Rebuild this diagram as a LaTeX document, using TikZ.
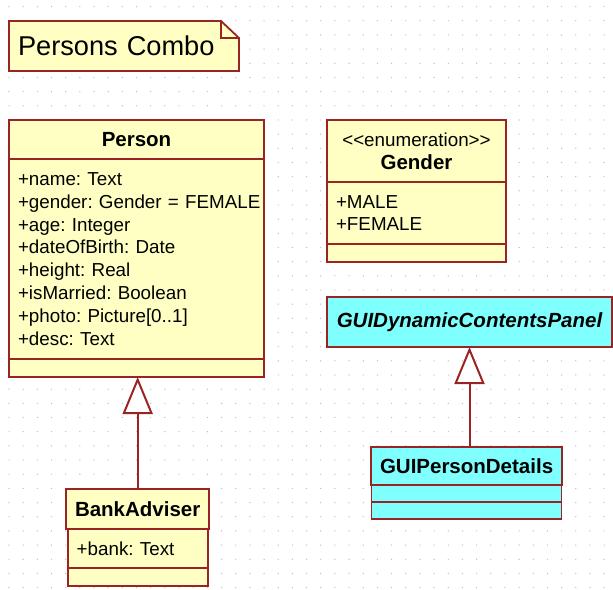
\documentclass[tikz,border=0pt]{standalone}
\usepackage{fontspec}
\setmainfont{Liberation Sans}
\usepackage{xcolor}
\usetikzlibrary{arrows.meta,positioning}
\definecolor{umlred}{HTML}{9A2424}
\definecolor{umlyellow}{HTML}{FFFFC4}
\definecolor{umlcyan}{HTML}{80FFFF}
\definecolor{griddot}{HTML}{BDBDBD}

\begin{document}
\begin{tikzpicture}[x=1pt,y=1pt,node distance=0pt]
  \tikzstyle{part}=[draw=umlred,line width=1.8pt,fill=umlyellow,outer sep=0pt,inner xsep=9pt,inner ysep=0pt,font=\fontsize{18.8}{22.9}\selectfont]
  \tikzstyle{head}=[part,align=center,font=\fontsize{20.5}{23}\selectfont\bfseries]
  \tikzstyle{attrs}=[part,align=left,execute at begin node={\hyphenpenalty=10000\exhyphenpenalty=10000}]
  \tikzstyle{gen}=[draw=umlred,line width=2pt,-{Triangle[length=37pt,width=30pt,fill=white]}]
  \useasboundingbox (0,0) rectangle (613,-589);
  \foreach \i in {0,...,42}
    \foreach \j in {0,...,41}
      \fill[griddot] (9+14.17*\i,-6.6-14.17*\j) circle (0.7pt);
  \node[anchor=north west,minimum height=50pt,inner xsep=9pt,inner ysep=0pt,outer sep=0pt,text width=212pt,align=left,font=\fontsize{27.2}{30}\selectfont] (title) at (9,-21) {\phantom{P}};
  \filldraw[fill=umlyellow,draw=umlred,line width=1.8pt] (title.north west) -- ([xshift=-18pt]title.north east) -- ([yshift=-17pt]title.north east) -- (title.south east) -- (title.south west) -- cycle;
  \draw[umlred,line width=1.8pt] ([xshift=-18pt]title.north east) |- ([yshift=-17pt]title.north east);
  \node[anchor=north west,minimum height=50pt,inner xsep=9pt,inner ysep=0pt,outer sep=0pt,text width=212pt,align=left,font=\fontsize{27.2}{30}\selectfont] at (title.north west) {Persons Combo};

  \node[head,anchor=north west,minimum width=255pt,minimum height=39pt] (person) at (9,-120) {Person};
  \node[attrs,below=of person,text width=237pt,minimum height=200pt] (personattr) {+name:~Text\\+gender:~Gender~=~FEMALE\\+age:~Integer\\+dateOfBirth:~Date\\+height:~Real\\+isMarried:~Boolean\\+photo:~Picture[0..1]\\+desc:~Text};
  \node[part,below=of personattr,minimum width=255pt,minimum height=18pt] (personops) {};

  \node[part,align=center,anchor=north west,minimum width=179pt,minimum height=62pt] (gender) at (327,-120) {<{}<enumeration>{}>\\{\fontsize{20.5}{23}\selectfont\bfseries Gender}};
  \node[attrs,below=of gender,text width=161pt,minimum height=62pt] (genderattr) {+MALE\\+FEMALE};
  \node[part,below=of genderattr,minimum width=179pt,minimum height=18pt] (genderops) {};

  \node[head,fill=umlcyan,anchor=north west,minimum width=285pt,minimum height=50pt,font=\fontsize{20.5}{23}\selectfont\bfseries\itshape] (gdyn) at (327,-297) {GUIDynamicContentsPanel};

  \node[head,fill=umlcyan,anchor=north west,minimum width=190pt,minimum height=38pt] (gpd) at (371,-447) {GUIPersonDetails};
  \node[part,fill=umlcyan,below=of gpd,minimum width=190pt,minimum height=17pt] (gpdattr) {};
  \node[part,fill=umlcyan,below=of gpdattr,minimum width=190pt,minimum height=17pt] (gpdops) {};

  \node[head,anchor=north west,minimum width=140pt,minimum height=40pt] (bank) at (66,-489) {BankAdviser};
  \node[attrs,below=of bank,text width=122pt,minimum height=39pt] (bankattr) {+bank:~Text};
  \node[part,below=of bankattr,minimum width=140pt,minimum height=18pt] (bankops) {};

  \draw[gen] (bank.north) -- (bank.north |- personops.south);
  \draw[gen] (gpd.north -| gdyn.south) -- (gdyn.south);
\end{tikzpicture}
\end{document}
